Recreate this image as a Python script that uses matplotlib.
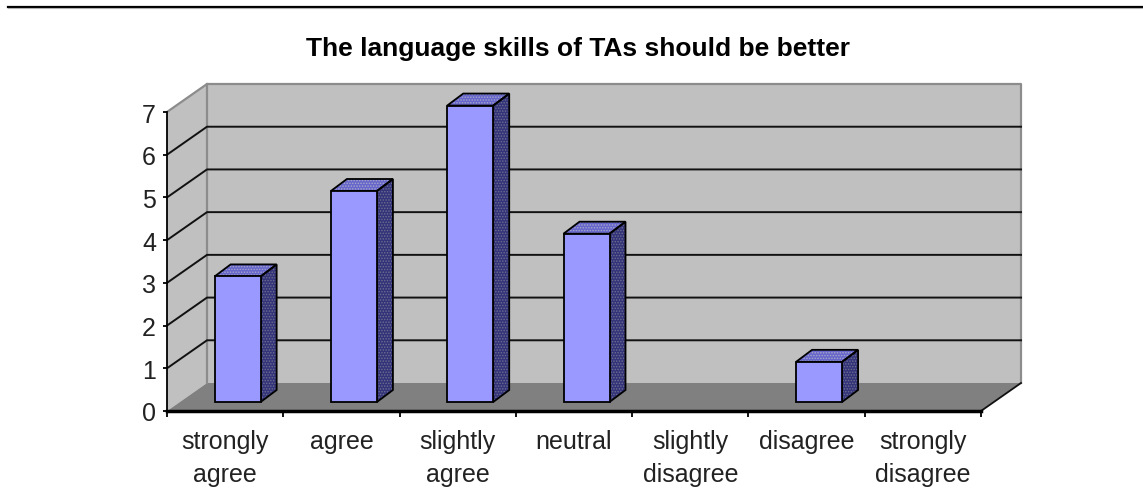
import matplotlib
matplotlib.use("Agg")
import matplotlib.pyplot as plt
from matplotlib.patches import Polygon
from matplotlib.lines import Line2D

categories = ["strongly\nagree", "agree", "slightly\nagree", "neutral",
              "slightly\ndisagree", "disagree", "strongly\ndisagree"]
counts = [3, 5, 7, 4, 0, 1, 0]
yticks = [0, 1, 2, 3, 4, 5, 6, 7]
title = "The language skills of TAs should be better"

W, H = 1143, 502
plt.rcParams['font.family'] = ['Liberation Sans', 'DejaVu Sans']
plt.rcParams['hatch.linewidth'] = 0.7

fig = plt.figure(figsize=(W / 100, H / 100), dpi=100, facecolor="white")

# axes box is the front plane of the fake 3d chart
ax = fig.add_axes([167 / W, (H - 412) / H, 814 / W, 299 / H])
ax.set_xlim(-0.5, 6.5)
ax.set_ylim(0, 7)
ax.patch.set_visible(False)
for s in ["top", "right"]:
    ax.spines[s].set_visible(False)
ax.spines["left"].set_linewidth(1.3)
ax.spines["bottom"].set_linewidth(2.5)

# depth of the box, in category / value units
DX = 40 / (814 / 7)
DY = 28 / (299 / 7)
n = len(categories)
top = max(yticks)
x0, x1 = -0.5, n - 0.5


def shape(pts, **kw):
    kw.setdefault("linewidth", 0)
    kw.setdefault("clip_on", False)
    ax.add_patch(Polygon(pts, closed=True, **kw))


# walls and floor
shape([(x0 + DX, DY), (x1 + DX, DY), (x1 + DX, top + DY), (x0 + DX, top + DY)],
      facecolor="#c0c0c0", zorder=1)
shape([(x0, 0), (x0 + DX, DY), (x0 + DX, top + DY), (x0, top)],
      facecolor="#c0c0c0", zorder=1)
shape([(x0, 0), (x1, 0), (x1 + DX, DY), (x0 + DX, DY)],
      facecolor="#808080", zorder=1)
wall = dict(color="#8c8c8c", lw=1.6, zorder=1.5, clip_on=False)
ax.plot([x0, x0 + DX, x1 + DX, x1 + DX], [top, top + DY, top + DY, DY], **wall)
ax.plot([x0 + DX, x0 + DX], [DY, top + DY], **wall)

# gridlines on the back wall, with their slanted part on the side wall
for v in yticks[1:-1]:
    ax.plot([x0, x0 + DX, x1 + DX], [v, v + DY, v + DY],
            color="#111111", lw=1.4, zorder=2, clip_on=False)
ax.plot([x1, x1 + DX], [0, DY], color="#111111", lw=1.3, zorder=2, clip_on=False)

# bars
BAR_W = 46 / (814 / 7)
BX = 16 / (814 / 7)
BY = 12 / (299 / 7)
OFFX = 12.5 / (814 / 7)
OFFY = 9 / (299 / 7)
for i, c in enumerate(counts):
    if c == 0:
        continue
    l = i - BAR_W / 2 + OFFX
    r = l + BAR_W
    b = OFFY
    t = c + OFFY - 0.06
    side = [(r, b), (r + BX, b + BY), (r + BX, t + BY), (r, t)]
    lid = [(l, t), (r, t), (r + BX, t + BY), (l + BX, t + BY)]
    # hatch takes the edge colour, so the black outline goes on separately
    shape(side, facecolor="#33337a", edgecolor="#6f6f90", hatch="......", zorder=3)
    shape(lid, facecolor="#6666cc", edgecolor="#a8a8c8", hatch="......", zorder=3)
    outline = dict(fill=False, edgecolor="black", linewidth=1.3, zorder=3.1)
    shape(side, **outline)
    shape(lid, **outline)
    shape([(l, b), (r, b), (r, t), (l, t)], facecolor="#9999ff",
          edgecolor="black", linewidth=1.3, zorder=3.2)

# ticks sit between categories, labels in the middle
ax.set_xticks([i - 0.5 for i in range(n + 1)])
ax.set_xticklabels([])
ax.set_xticks(range(n), labels=categories, minor=True)
ax.tick_params(axis="x", which="major", length=4, width=1.3, color="black")
ax.tick_params(axis="x", which="minor", length=0, pad=13, labelsize=18, labelcolor="#222222")
ax.set_yticks(yticks)
ax.tick_params(axis="y", length=3, width=1.3, pad=5, labelsize=18, labelcolor="#222222")
for lab in ax.get_xticklabels(minor=True):
    lab.set_linespacing(1.45)

fig.text(578 / W, 1 - 49 / H, title, ha="center", va="center",
         fontsize=19, fontweight="bold", color="black")

# rule at the top of the page
fig.add_artist(Line2D([8 / W, 1], [1 - 7.5 / H] * 2, color="black", lw=1.6))
fig.add_artist(Line2D([8 / W, 1], [1 - 9.4 / H] * 2, color="#b0b0b0", lw=0.8))

fig.savefig("out.png", dpi=100)
